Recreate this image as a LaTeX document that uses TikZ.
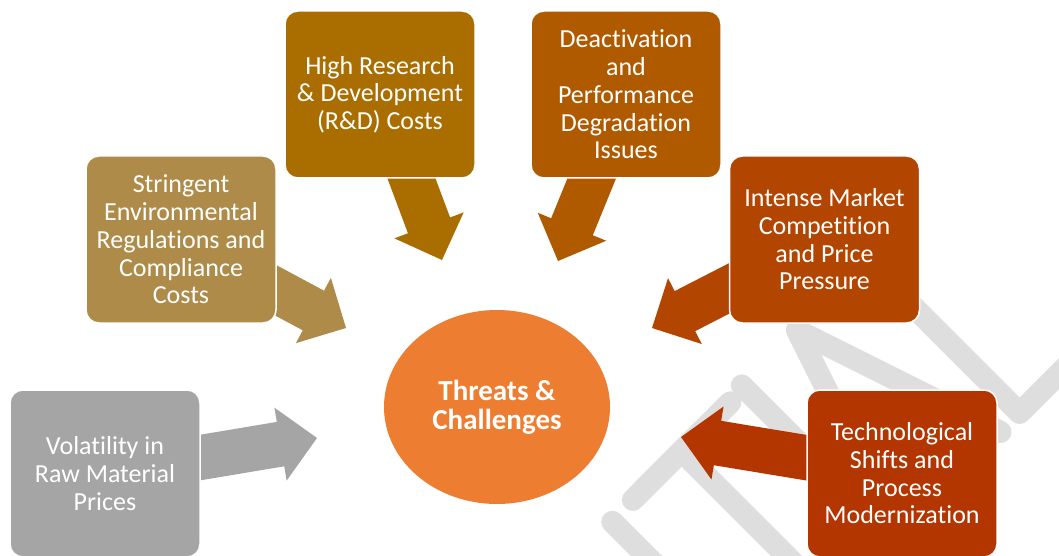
\documentclass[tikz,border=0pt]{standalone}
\usepackage{fontspec}
\setmainfont{Carlito}[Ligatures=NoCommon]
\usetikzlibrary{calc,shapes.geometric}

\definecolor{cgrey}{HTML}{A5A5A5}
\definecolor{ctan}{HTML}{AE8B48}
\definecolor{cgold}{HTML}{AA6E00}
\definecolor{cbrown}{HTML}{B05A00}
\definecolor{crust}{HTML}{B24500}
\definecolor{cbrick}{HTML}{B33500}
\definecolor{hubcol}{HTML}{ED7D31}
\definecolor{wmcol}{HTML}{DEDEDE}

\pgfdeclarelayer{mark}
\pgfdeclarelayer{under}
\pgfsetlayers{mark,under,main}

\tikzset{
  card/.style={draw=white, line width=1.5pt, rounded corners=13pt,
    minimum width=190pt, minimum height=167pt, inner sep=0pt,
    align=center, text=white, font=\fontsize{26}{27.7}\selectfont},
  hub/.style={ellipse, fill=hubcol, minimum width=226pt, minimum height=194pt,
    inner sep=0pt, align=center, text=white,
    font=\fontsize{29}{29}\selectfont\bfseries},
  wmark/.style={draw=wmcol, line width=22pt, line cap=round, line join=round},
}

% block arrow: #1 name prefix, #2 start, #3 tip, #4 colour
\newcommand\blockarrow[4]{%
  \coordinate (#1h) at ($(#3)!37pt!(#2)$);
  \fill[#4] ($(#2)!22.5pt!90:(#3)$) -- ($(#1h)!22.5pt!90:(#3)$)
    -- ($(#1h)!37pt!90:(#3)$) -- (#3) -- ($(#1h)!37pt!-90:(#3)$)
    -- ($(#1h)!22.5pt!-90:(#3)$) -- ($(#2)!22.5pt!-90:(#3)$) -- cycle;}

\begin{document}
\begin{tikzpicture}[x=1pt, y=-1pt]
\useasboundingbox (0,0) rectangle (1059,556);

% background and faint watermark lettering
\begin{pgfonlayer}{mark}
  \fill[white] (0,0) rectangle (1059,556);
  \begin{scope}
    \clip (0,0) rectangle (1059,556);
    \draw[wmark] (612.3,521.8) -- (761.5,671);
    \draw[wmark] (632.9,499.9) -- (730.4,402.3);
    \draw[wmark] (681.6,451.1) -- (831.5,601);
    \draw[wmark] (741.8,385.4) -- (894.5,538.1);
    \draw[wmark] (898.7,533.9) -- (796.9,330.2) -- (1000.5,432);
    \draw[wmark] (869,474.5) -- (941.2,402.3);
    \draw[wmark] (866.9,260.2) -- (1019.6,413) -- (1112.3,320.3);
  \end{scope}
\end{pgfonlayer}

% boxes
\node[card, fill=cgrey]  (b1) at (105,473.5) {Volatility in\\Raw Material\\Prices};
\node[card, fill=ctan]   (b2) at (181,239.5) {Stringent\\Environmental\\Regulations and\\Compliance\\Costs};
\node[card, fill=cgold]  (b3) at (380,94.5)  {High Research\\\& Development\\(R\&D) Costs};
\node[card, fill=cbrown] (b4) at (626,94.5)  {Deactivation\\and\\Performance\\Degradation\\Issues};
\node[card, fill=crust]  (b5) at (824.5,239.5) {Intense Market\\Competition\\and Price\\Pressure};
\node[card, fill=cbrick] (b6) at (902,473.5) {Technological\\Shifts and\\Process\\Modernization};

% centre
\node[hub] (hub) at (497,407) {Threats \&\\Challenges};

% arrow tips
\coordinate (t1) at (317,438);
\coordinate (t2) at (346,328);
\coordinate (t3) at (442,260);
\coordinate (t4) at (558,261);
\coordinate (t5) at (652,328);
\coordinate (t6) at (681,437);

\begin{pgfonlayer}{under}
  \blockarrow{a1}{b1.center}{t1}{cgrey}
  \blockarrow{a2}{b2.center}{t2}{ctan}
  \blockarrow{a3}{b3.center}{t3}{cgold}
  \blockarrow{a4}{b4.center}{t4}{cbrown}
  \blockarrow{a5}{b5.center}{t5}{crust}
  \blockarrow{a6}{b6.center}{t6}{cbrick}
\end{pgfonlayer}
\end{tikzpicture}
\end{document}
